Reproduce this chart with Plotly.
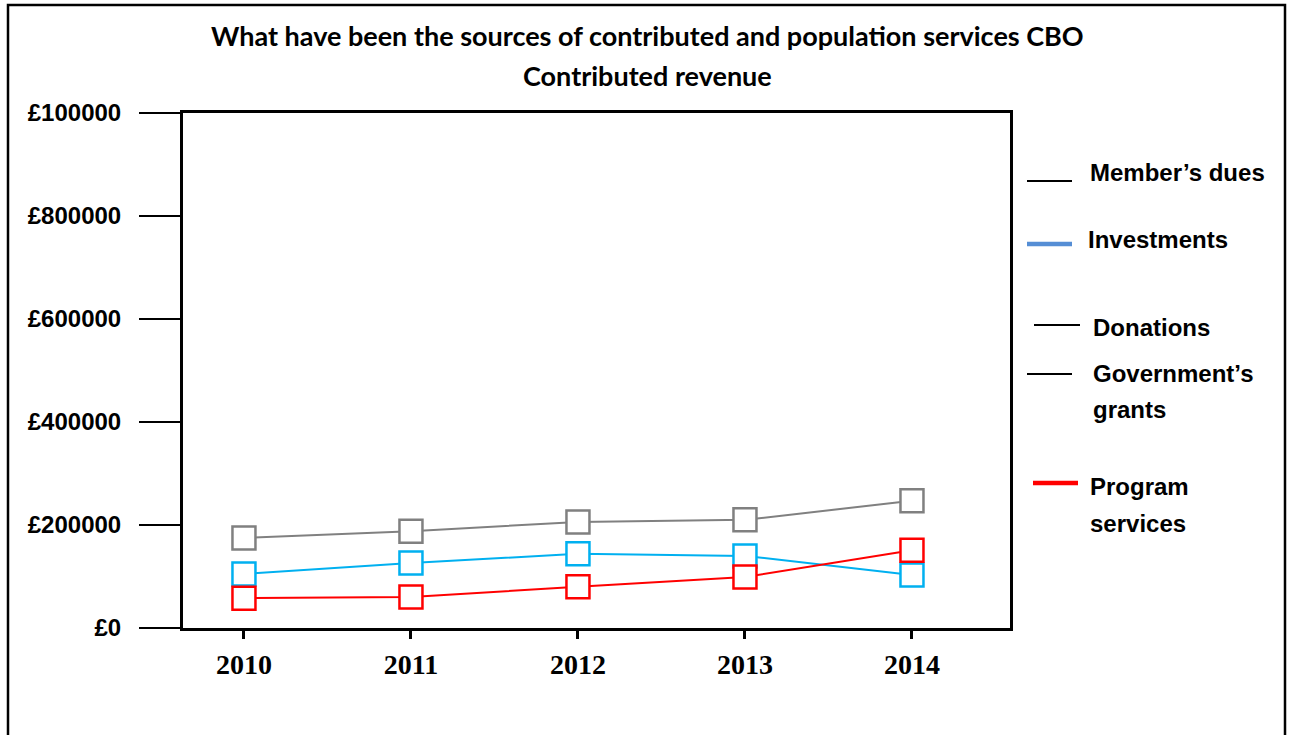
import plotly.graph_objects as go

# ---- data ----
years = [2010, 2011, 2012, 2013, 2014]
series_grey = [175000, 188000, 206000, 210000, 247000]
series_blue = [105000, 126000, 144000, 140000, 103000]
series_red = [58000, 60000, 80000, 99000, 151000]

ytick_vals = [0, 200000, 400000, 600000, 800000, 1000000]
ytick_text = ["£0", "£200000", "£400000", "£600000", "£800000", "£100000"]

title_lines = ["What have been the sources of contributed and population services CBO",
               "Contributed revenue"]
legend_labels = ["Member’s dues", "Investments", "Donations", "Government’s<br>grants", "Program<br>services"]

# ---- layout geometry (pixels) ----
W, H = 1290, 735
L, R, T, B = 183, 280, 113, 107
PW, PH = W - L - R, H - T - B


def px(x):
    return (x - L) / PW


def py(y):
    return (H - B - y) / PH


fig = go.Figure()
styles = [("#808080", series_grey), ("#00b0f0", series_blue), ("#ff0000", series_red)]
for color, vals in styles:
    fig.add_trace(go.Scatter(
        x=years, y=vals, mode="lines+markers",
        line=dict(color=color, width=2),
        marker=dict(symbol="square", size=23, color="white",
                    line=dict(color=color, width=2.5)),
        showlegend=False, hoverinfo="skip"))

shapes = []
# outer frame
shapes.append(dict(type="rect", xref="paper", yref="paper",
                   x0=px(8), x1=px(1285), y0=py(745), y1=py(5),
                   line=dict(color="black", width=2.5), layer="below"))
# custom legend swatches
legend_geom = [
    # (x0, x1, y, color, width, text_x, text_y)
    (1027, 1072, 181, "black", 2, 1088, 172),
    (1027, 1072, 244, "#558ed5", 4.5, 1086, 240),
    (1034, 1080, 325, "black", 2, 1091, 327),
    (1027, 1072, 374, "black", 2, 1091, 373),
    (1033, 1078, 483, "#ff0000", 4.5, 1088, 486),
]
annotations = []
for label, (x0, x1, yy, col, wd, tx, ty) in zip(legend_labels, legend_geom):
    shapes.append(dict(type="line", xref="paper", yref="paper",
                       x0=px(x0), x1=px(x1), y0=py(yy), y1=py(yy),
                       line=dict(color=col, width=wd)))
    for i, part in enumerate(label.split("<br>")):
        annotations.append(dict(
            text=part, xref="paper", yref="paper", x=px(tx), y=py(ty + 37 * i),
            xanchor="left", yanchor="middle", showarrow=False,
            font=dict(family="Liberation Sans, Arial, sans-serif", size=24,
                      color="black", weight="bold")))

for i, t in enumerate(title_lines):
    annotations.append(dict(
        text=t, xref="paper", yref="paper", x=px(647), y=py(35 + 40 * i),
        xanchor="center", yanchor="middle", showarrow=False,
        font=dict(family="Lato, sans-serif", size=27, color="black", weight="bold")))

fig.update_layout(
    width=W, height=H,
    margin=dict(l=L, r=R, t=T, b=B, pad=0),
    paper_bgcolor="white", plot_bgcolor="white",
    shapes=shapes, annotations=annotations,
    xaxis=dict(
        range=[2009.635, 2014.587], tickvals=years, ticktext=[str(y) for y in years],
        showgrid=False, zeroline=False,
        showline=True, linecolor="black", linewidth=2.5, mirror=True,
        ticks="outside", ticklen=8, tickwidth=3, tickcolor="black",
        ticklabelstandoff=2,
        tickfont=dict(family="Liberation Serif, Times New Roman, serif", size=28,
                      color="black", weight="bold")),
    yaxis=dict(
        range=[0, 1000000], tickvals=ytick_vals, ticktext=ytick_text,
        showgrid=False, zeroline=False,
        showline=True, linecolor="black", linewidth=3, mirror=True,
        ticks="outside", ticklen=41, tickwidth=2, tickcolor="black",
        ticklabelstandoff=13,
        tickfont=dict(family="Liberation Sans, Arial, sans-serif", size=24,
                      color="black", weight="bold")),
)

fig.write_html("out.html")
